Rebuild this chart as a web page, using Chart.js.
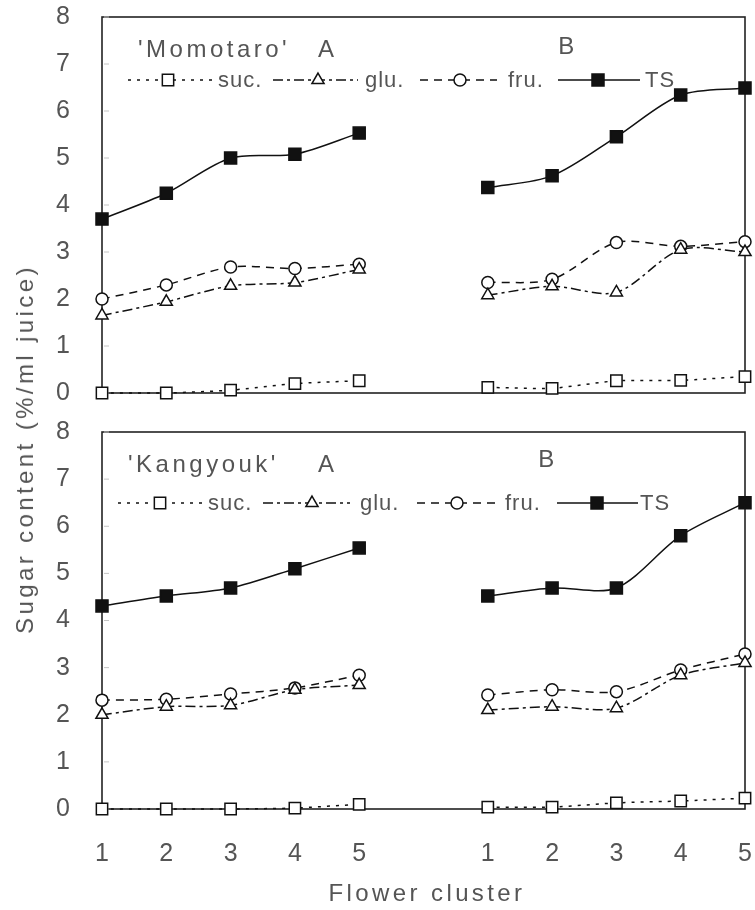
<!DOCTYPE html>
<html>
<head>
<meta charset="utf-8">
<script src="https://cdn.jsdelivr.net/npm/chart.js@4.4.1/dist/chart.umd.min.js"></script>
<style>
    html, body { margin: 0; padding: 0; background: #fff; }
    #wrap { position: relative; width: 755px; height: 910px; overflow: hidden;
            font-family: 'Liberation Sans', Arial, sans-serif; color: #555; }
    .box { position: absolute; left: 0; width: 755px; }
    #topBox { top: 0; height: 410px; }
    #botBox { top: 410px; height: 500px; }
    .ytitle { position: absolute; left: 25px; top: 449px; white-space: nowrap;
              transform: translate(-50%, -50%) rotate(-90deg);
              font-size: 24px; letter-spacing: 3.4px; }
    .xtitle { position: absolute; left: 427px; top: 893px; white-space: nowrap;
              transform: translate(-50%, -50%);
              font-size: 24px; letter-spacing: 3.4px; }
</style>
</head>
<body>
<div id="wrap">
    <div class="box" id="topBox"><canvas id="topChart"></canvas></div>
    <div class="box" id="botBox"><canvas id="botChart"></canvas></div>
    <div class="ytitle">Sugar content (%/ml juice)</div>
    <div class="xtitle">Flower cluster</div>
</div>
<script>
// Flower cluster positions: group A on 1-5, group B on 7-11 (gap at 6)
const clustersA = [1, 2, 3, 4, 5];
const clustersB = [7, 8, 9, 10, 11];
const xTickLabels = ['1', '2', '3', '4', '5', '', '1', '2', '3', '4', '5'];
const yTicks = [0, 1, 2, 3, 4, 5, 6, 7, 8];

// 'Momotaro' (top panel)
const momoSucA = [0, 0, 0.06, 0.2, 0.26];
const momoSucB = [0.12, 0.1, 0.26, 0.27, 0.35];
const momoGluA = [1.65, 1.94, 2.28, 2.35, 2.63];
const momoGluB = [2.08, 2.27, 2.14, 3.05, 3.0];
const momoFruA = [2.0, 2.3, 2.68, 2.65, 2.74];
const momoFruB = [2.35, 2.42, 3.2, 3.12, 3.22];
const momoTsA = [3.7, 4.25, 5.0, 5.08, 5.53];
const momoTsB = [4.37, 4.62, 5.45, 6.34, 6.49];

// 'Kangyouk' (bottom panel)
const kangSucA = [0, 0, 0, 0.02, 0.1];
const kangSucB = [0.04, 0.04, 0.13, 0.17, 0.23];
const kangGluA = [2.0, 2.17, 2.2, 2.53, 2.63];
const kangGluB = [2.1, 2.17, 2.14, 2.84, 3.1];
const kangFruA = [2.31, 2.33, 2.44, 2.57, 2.84];
const kangFruB = [2.42, 2.53, 2.49, 2.95, 3.29];
const kangTsA = [4.31, 4.52, 4.69, 5.1, 5.54];
const kangTsB = [4.52, 4.69, 4.69, 5.8, 6.5];

const seriesNames = ['suc.', 'glu.', 'fru.', 'TS'];

// line / marker style per series (same order as seriesNames)
const seriesStyles = [
    { dash: [3, 6], point: 'rect', radius: 8, fill: '#fff', tension: 0.2 },
    { dash: [10, 4, 3, 4], point: 'triangle', radius: 7, fill: '#fff', tension: 0.3 },
    { dash: [8, 6], point: 'circle', radius: 6, fill: '#fff', tension: 0.3 },
    { dash: [], point: 'rect', radius: 8.5, fill: '#111', tension: 0.3 }
];

const FONT = "'Liberation Sans', Arial, sans-serif";
const INK = '#111';
const TEXT = '#555';

function buildDatasets(groupA, groupB) {
    const sets = [];
    seriesStyles.forEach((st, i) => {
        [[clustersA, groupA[i]], [clustersB, groupB[i]]].forEach(([xs, ys]) => {
            sets.push({
                label: seriesNames[i],
                data: xs.map((x, j) => ({ x: x, y: ys[j] })),
                borderColor: INK,
                borderWidth: 1.5,
                borderDash: st.dash,
                tension: st.tension,
                pointStyle: st.point,
                pointRadius: st.radius,
                pointBackgroundColor: st.fill,
                pointBorderColor: INK,
                pointBorderWidth: 1.5,
                clip: false
            });
        });
    });
    return sets;
}

// small marker for the in-plot legend
function drawMarker(ctx, style, x, y) {
    const r = style.radius;
    ctx.save();
    ctx.setLineDash([]);
    ctx.lineWidth = 1.5;
    ctx.strokeStyle = INK;
    ctx.fillStyle = style.fill;
    ctx.beginPath();
    if (style.point === 'rect') {
        const s = Math.SQRT1_2 * r;
        ctx.rect(x - s, y - s, 2 * s, 2 * s);
    } else if (style.point === 'triangle') {
        for (let k = 0; k < 3; k++) {
            const a = k * 2 * Math.PI / 3;
            const px = x + Math.sin(a) * r;
            const py = y - Math.cos(a) * r;
            if (k === 0) ctx.moveTo(px, py); else ctx.lineTo(px, py);
        }
        ctx.closePath();
    } else {
        ctx.arc(x, y, r, 0, Math.PI * 2);
    }
    ctx.fill();
    ctx.stroke();
    ctx.restore();
}

// frame + faint inner ticks
const framePlugin = {
    id: 'frame',
    beforeDatasetsDraw(chart) {
        const { ctx, chartArea: a, scales: { y } } = chart;
        ctx.save();
        ctx.strokeStyle = '#222';
        ctx.lineWidth = 1.6;
        ctx.strokeRect(a.left, a.top, a.right - a.left, a.bottom - a.top);
        ctx.strokeStyle = '#c4c4c4';
        ctx.lineWidth = 1;
        y.ticks.forEach(t => {
            const py = y.getPixelForValue(t.value);
            ctx.beginPath();
            ctx.moveTo(a.left + 2, py);
            ctx.lineTo(a.left + 7, py);
            ctx.stroke();
        });
        ctx.restore();
    }
};

// panel titles and legend row drawn inside the plot
const panelLegendPlugin = {
    id: 'panelLegend',
    afterDraw(chart, args, opts) {
        const ctx = chart.ctx;
        ctx.save();
        ctx.fillStyle = TEXT;
        ctx.textBaseline = 'middle';
        ctx.font = '24px ' + FONT;
        ctx.letterSpacing = '3.5px';
        ctx.textAlign = 'left';
        ctx.fillText(opts.title, opts.titleX, opts.titleY);
        ctx.fillText('A', opts.aX, opts.titleY);
        ctx.textAlign = 'center';
        ctx.fillText('B', opts.bX, opts.bY);

        ctx.font = '22px ' + FONT;
        ctx.letterSpacing = '1px';
        ctx.textAlign = 'left';
        opts.entries.forEach((e, i) => {
            const st = seriesStyles[i];
            ctx.save();
            ctx.strokeStyle = INK;
            ctx.lineWidth = 1.5;
            ctx.setLineDash(st.dash);
            ctx.beginPath();
            ctx.moveTo(e.x0, opts.rowY);
            ctx.lineTo(e.x1, opts.rowY);
            ctx.stroke();
            ctx.restore();
            drawMarker(ctx, st, e.mx, opts.rowY);
            ctx.fillText(seriesNames[i], e.tx, opts.rowY + 1);
        });
        ctx.restore();
    }
};

function makeChart(canvasId, datasets, showX, pad, legendOpts) {
    return new Chart(document.getElementById(canvasId), {
        type: 'line',
        data: { datasets: datasets },
        options: {
            responsive: true,
            maintainAspectRatio: false,
            animation: false,
            devicePixelRatio: 1,
            layout: { padding: pad },
            plugins: {
                legend: { display: false },
                tooltip: { enabled: false },
                panelLegend: legendOpts
            },
            scales: {
                x: {
                    type: 'linear',
                    min: 1,
                    max: 11,
                    display: showX,
                    grid: { display: false },
                    border: { display: false },
                    afterFit: s => {
                        if (showX) s.height = 101;
                        s.paddingLeft = 0;
                        s.paddingRight = 0;
                    },
                    afterBuildTicks: s => {
                        s.ticks = xTickLabels.map((_, i) => ({ value: i + 1 }));
                    },
                    ticks: {
                        autoSkip: false,
                        maxRotation: 0,
                        padding: 22,
                        color: TEXT,
                        font: { family: FONT, size: 25 },
                        callback: (v, i) => xTickLabels[i]
                    }
                },
                y: {
                    min: 0,
                    max: 8,
                    grid: { display: false },
                    border: { display: false },
                    afterFit: s => {
                        s.width = 102;
                        s.paddingTop = 0;
                        s.paddingBottom = 0;
                    },
                    afterBuildTicks: s => {
                        s.ticks = yTicks.map(v => ({ value: v }));
                    },
                    ticks: {
                        autoSkip: false,
                        padding: 24,
                        color: TEXT,
                        font: { family: FONT, size: 25 }
                    }
                }
            }
        },
        plugins: [framePlugin, panelLegendPlugin]
    });
}

makeChart('topChart',
    buildDatasets([momoSucA, momoGluA, momoFruA, momoTsA], [momoSucB, momoGluB, momoFruB, momoTsB]),
    false,
    { top: 17, right: 7, bottom: 17, left: 0 },
    {
        title: "'Momotaro'", titleX: 138, titleY: 50, aX: 318, bX: 568, bY: 47, rowY: 80,
        entries: [
            { x0: 128, x1: 213, mx: 168, tx: 218 },
            { x0: 273, x1: 358, mx: 318, tx: 365 },
            { x0: 420, x1: 497, mx: 460, tx: 508 },
            { x0: 558, x1: 640, mx: 598, tx: 645 }
        ]
    });

makeChart('botChart',
    buildDatasets([kangSucA, kangGluA, kangFruA, kangTsA], [kangSucB, kangGluB, kangFruB, kangTsB]),
    true,
    { top: 22, right: 7, bottom: 0, left: 0 },
    {
        title: "'Kangyouk'", titleX: 128, titleY: 55, aX: 318, bX: 548, bY: 50, rowY: 93,
        entries: [
            { x0: 118, x1: 203, mx: 160, tx: 208 },
            { x0: 263, x1: 350, mx: 312, tx: 360 },
            { x0: 417, x1: 497, mx: 457, tx: 505 },
            { x0: 557, x1: 638, mx: 597, tx: 640 }
        ]
    });
</script>
</body>
</html>
